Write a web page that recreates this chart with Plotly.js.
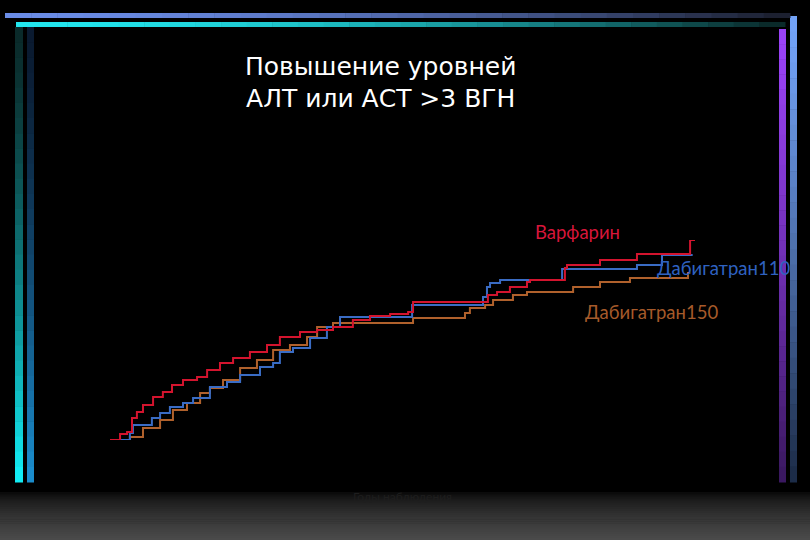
<!DOCTYPE html>
<html>
<head>
<meta charset="utf-8">
<script src="https://cdn.plot.ly/plotly-3.0.1.min.js"></script>
<style>html,body{margin:0;padding:0;background:#000;}#chart{width:810px;height:540px;}</style>
</head>
<body>
<div id="chart"></div>
<script>
// Years of follow-up and cumulative event rate (%)
const warfarinYears = [0, 0.043, 0.073, 0.094, 0.115, 0.141, 0.184, 0.226, 0.265, 0.312, 0.372, 0.415, 0.47, 0.526, 0.598, 0.671, 0.726, 0.812, 0.885, 0.953, 1.038, 1.111, 1.197, 1.274, 1.295, 1.594, 1.615, 1.654, 1.709, 1.782, 1.795, 1.923, 1.944, 1.953, 2.094, 2.252, 2.479, 2.5];
const warfarinRate  = [0, 0.15, 0.2, 0.55, 0.7, 0.875, 1.075, 1.2, 1.375, 1.5, 1.575, 1.75, 1.925, 2.05, 2.2, 2.375, 2.575, 2.7, 2.75, 2.825, 3.0, 3.1, 3.15, 3.2, 3.45, 3.45, 3.625, 3.7, 3.825, 3.95, 4.0, 4.0, 4.3, 4.375, 4.5, 4.65, 5.0, 5.0];

const dabi110Years = [0, 0.085, 0.098, 0.179, 0.214, 0.256, 0.312, 0.355, 0.427, 0.5, 0.556, 0.641, 0.697, 0.726, 0.782, 0.855, 0.927, 0.983, 1.291, 1.594, 1.611, 1.624, 1.667, 1.932, 2.252, 2.359, 2.49];
const dabi110Rate  = [0, 0.175, 0.375, 0.55, 0.675, 0.825, 0.925, 1.05, 1.325, 1.45, 1.625, 1.825, 1.925, 2.2, 2.3, 2.55, 2.825, 3.075, 3.375, 3.575, 3.825, 3.925, 4.0, 4.275, 4.375, 4.625, 4.625];

const dabi150Years = [0, 0.085, 0.141, 0.214, 0.269, 0.329, 0.385, 0.427, 0.483, 0.556, 0.628, 0.697, 0.769, 0.842, 0.885, 0.953, 1.295, 1.517, 1.538, 1.603, 1.637, 1.722, 1.782, 1.979, 2.094, 2.222, 2.47, 2.48];
const dabi150Rate  = [0, 0.075, 0.3, 0.5, 0.75, 0.925, 1.175, 1.3, 1.5, 1.8, 2.0, 2.25, 2.375, 2.575, 2.825, 2.925, 3.05, 3.175, 3.3, 3.375, 3.5, 3.625, 3.7, 3.825, 3.95, 4.05, 4.175, 4.175];

const seriesNames = ['Варфарин', 'Дабигатран110', 'Дабигатран150'];
const titleText = 'Повышение уровней<br>АЛТ или АСТ &gt;3 ВГН';
const xTitle = 'Годы наблюдения';

const colWarf = '#d3142e', col110 = '#3a6cc4', col150 = '#b0612c';

const traces = [
  {x: dabi150Years, y: dabi150Rate, name: seriesNames[2], mode: 'lines', line: {shape: 'hv', color: col150, width: 2}},
  {x: dabi110Years, y: dabi110Rate, name: seriesNames[1], mode: 'lines', line: {shape: 'hv', color: col110, width: 2}},
  {x: warfarinYears, y: warfarinRate, name: seriesNames[0], mode: 'lines', line: {shape: 'hv', color: colWarf, width: 2}}
];

// layout geometry (pixels)
const L = 110, R = 115, T = 240, B = 100, W = 810 - L - R, H = 540 - T - B;
const px = x => (x - L) / W;
const py = y => (540 - B - y) / H;

function hex(c){return [parseInt(c.slice(1,3),16),parseInt(c.slice(3,5),16),parseInt(c.slice(5,7),16)];}
function mix(a,b,t){const A=hex(a),Bc=hex(b);return 'rgb('+A.map((v,i)=>Math.round(v+(Bc[i]-v)*t)).join(',')+')';}

const shapes = [];
function hbar(x0,x1,y0,y1,c0,c1,n,pw){
  for(let i=0;i<n;i++){
    const a=x0+(x1-x0)*i/n, b=x0+(x1-x0)*(i+1)/n+0.5;
    const t=Math.pow(i/(n-1),pw||1);
    shapes.push({type:'rect',xref:'paper',yref:'paper',x0:px(a),x1:px(b),y0:py(y1),y1:py(y0),fillcolor:mix(c0,c1,t),line:{width:0},layer:'below'});
  }
}
function vbar(x0,x1,y0,y1,c0,c1,n,pw){
  for(let i=0;i<n;i++){
    const a=y0+(y1-y0)*i/n, b=y0+(y1-y0)*(i+1)/n+0.5;
    const t=Math.pow(i/(n-1),pw||1);
    shapes.push({type:'rect',xref:'paper',yref:'paper',x0:px(x0),x1:px(x1),y0:py(b),y1:py(a),fillcolor:mix(c0,c1,t),line:{width:0},layer:'below'});
  }
}
// left & right bars
vbar(15,23,27,482,'#0a2a2a','#12ecf4',30,1.4);
vbar(27,34,27,482,'#0a1a30','#1a8ccc',30,1.4);
vbar(779,786,29,482,'#9a42f6','#3a1860',30,1.2);
vbar(790,797,16,482,'#72a2f6','#1c2c48',30,1.2);
// bottom grey gradient
vbar(0,810,490,540,'#000000','#4a4a4a',24,0.6);
// top bars
hbar(5,790,13,18,'#6a8ce6','#1c2030',30,1.6);
hbar(16,785,22,27,'#22e6ee','#0a2a2a',30,1.6);

const layout = {
  width: 810, height: 540,
  margin: {l: L, r: R, t: T, b: B},
  paper_bgcolor: '#000000', plot_bgcolor: 'rgba(0,0,0,0)',
  showlegend: false,
  title: {text: titleText, x: 0.47, xref: 'container', y: 0.862, yref: 'container', yanchor: 'middle', xanchor: 'center',
          font: {family: 'DejaVu Sans', size: 25, color: '#ffffff'}},
  xaxis: {range: [0, 2.5], showgrid: false, zeroline: false, showline: false, showticklabels: false, ticks: '', fixedrange: true,
          title: {text: xTitle, standoff: 52, font: {family: 'Lato', size: 12, color: '#1e1e1e'}}},
  yaxis: {range: [0, 5], showgrid: false, zeroline: false, showline: false, showticklabels: false, ticks: '', fixedrange: true},
  shapes: shapes,
  annotations: [
    {x: px(533), y: py(232), xref: 'paper', yref: 'paper', text: seriesNames[0], showarrow: false, xanchor: 'left', yanchor: 'middle', font: {family: 'Lato', size: 18.5, color: '#d8163a'}},
    {x: px(655), y: py(268), xref: 'paper', yref: 'paper', text: seriesNames[1], showarrow: false, xanchor: 'left', yanchor: 'middle', font: {family: 'Lato', size: 18.5, color: '#2f62c0'}},
    {x: px(583), y: py(312), xref: 'paper', yref: 'paper', text: seriesNames[2], showarrow: false, xanchor: 'left', yanchor: 'middle', font: {family: 'Lato', size: 18.5, color: '#a65a2a'}}
  ]
};

Plotly.newPlot('chart', traces, layout, {displayModeBar: false, staticPlot: true});
</script>
</body>
</html>
